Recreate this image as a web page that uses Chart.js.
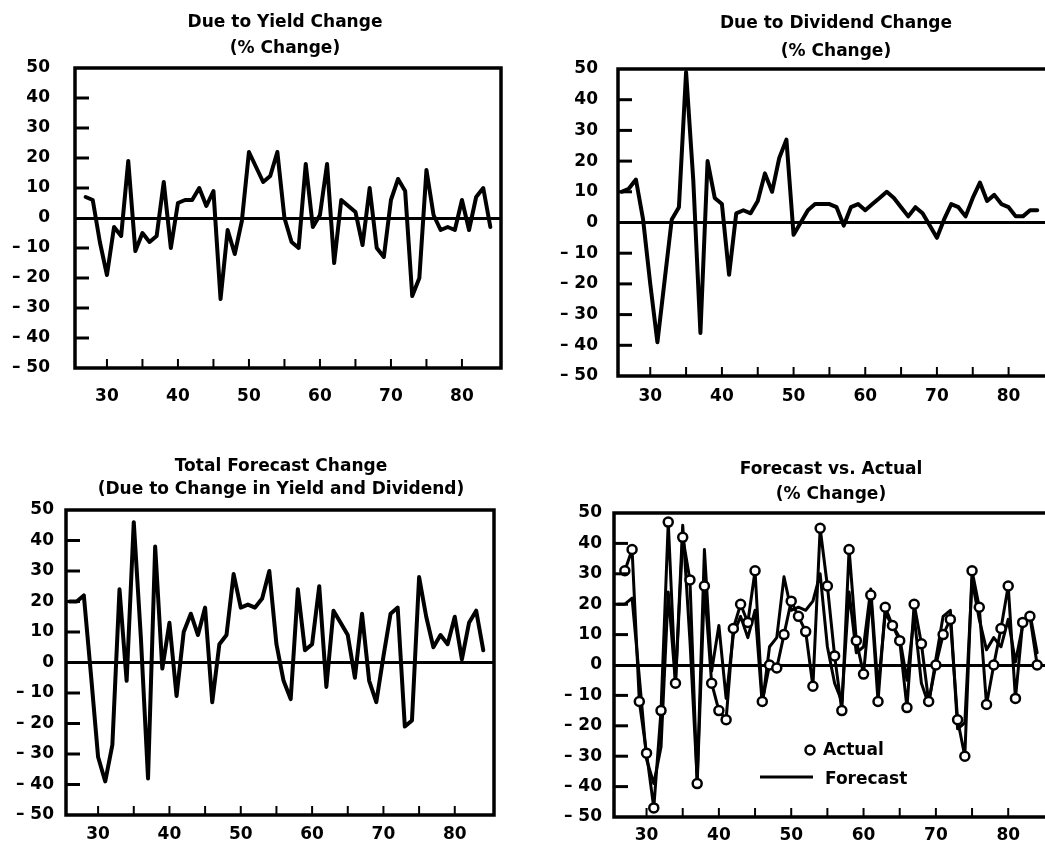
<!DOCTYPE html>
<html>
<head>
<meta charset="utf-8">
<script src="https://cdn.jsdelivr.net/npm/chart.js@4.4.1/dist/chart.umd.min.js"></script>
<style>
  html, body { margin: 0; padding: 0; background: #fff; overflow: hidden; }
  body { width: 1045px; height: 850px; position: relative; }
  canvas { position: absolute; }
</style>
</head>
<body>
<canvas id="yieldChart" width="570" height="415" style="left:0;top:0"></canvas>
<canvas id="dividendChart" width="552" height="415" style="left:560px;top:0"></canvas>
<canvas id="totalChart" width="562" height="410" style="left:0;top:440px"></canvas>
<canvas id="actualChart" width="542" height="410" style="left:560px;top:440px"></canvas>
<script>
// years 1926..1984, two digits as on the axis
const years = [26, 27, 28, 29, 30, 31, 32, 33, 34, 35, 36, 37, 38, 39, 40, 41, 42, 43, 44, 45,
               46, 47, 48, 49, 50, 51, 52, 53, 54, 55, 56, 57, 58, 59, 60, 61, 62, 63, 64, 65,
               66, 67, 68, 69, 70, 71, 72, 73, 74, 75, 76, 77, 78, 79, 80, 81, 82, 83, 84];

const yieldChg = [null, 7, 6, -8, -19, -3, -6, 19, -11, -5, -8, -6, 12, -10, 5, 6, 6, 10, 4, 9,
                  -27, -4, -12, -1, 22, 17, 12, 14, 22, 0, -8, -10, 18, -3, 1, 18, -15, 6, 4, 2,
                  -9, 10, -10, -13, 6, 13, 9, -26, -20, 16, 1, -4, -3, -4, 6, -4, 7, 10, -3];

const dividendChg = [10, 11, 14, 1, -20, -39, -19, 1, 5, 49, 14, -36, 20, 8, 6, -17, 3, 4, 3, 7,
                     16, 10, 21, 27, -4, 0, 4, 6, 6, 6, 5, -1, 5, 6, 4, 6, 8, 10, 8, 5,
                     2, 5, 3, -1, -5, 1, 6, 5, 2, 8, 13, 7, 9, 6, 5, 2, 2, 4, 4];

// total forecast change (yield + dividend), also the forecast line in the last panel
const totalChg = [20, 20, 22, -4, -31, -39, -27, 24, -6, 46, 8, -38, 38, -2, 13, -11, 10, 16, 9, 18,
                  -13, 6, 9, 29, 18, 19, 18, 21, 30, 6, -6, -12, 24, 4, 6, 25, -8, 17, 13, 9,
                  -5, 16, -6, -13, 2, 16, 18, -21, -19, 28, 15, 5, 9, 6, 15, 1, 13, 17, 4];

const actualChg = [null, 31, 38, -12, -29, -47, -15, 47, -6, 42, 28, -39, 26, -6, -15, -18, 12, 20, 14, 31,
                   -12, 0, -1, 10, 21, 16, 11, -7, 45, 26, 3, -15, 38, 8, -3, 23, -12, 19, 13, 8,
                   -14, 20, 7, -12, 0, 10, 15, -18, -30, 31, 19, -13, 0, 12, 26, -11, 14, 16, 0];

const xLabels = [30, 40, 50, 60, 70, 80];
const xTickMarks = [30, 35, 40, 45, 50, 55, 60, 65, 70, 75, 80];
const yLabels = [-50, -40, -30, -20, -10, 0, 10, 20, 30, 40, 50];

const FONT = "'DejaVu Sans', sans-serif";

function points(vals) {
    return years.map((yr, i) => ({ x: yr, y: vals[i] }));
}

// box round the plot, inward ticks
const framePlugin = {
    id: 'frame',
    afterDatasetsDraw(chart) {
        const { ctx, chartArea: a, scales } = chart;
        ctx.save();
        ctx.strokeStyle = '#000';
        ctx.lineWidth = 3.5;
        ctx.strokeRect(a.left, a.top, a.right - a.left, a.bottom - a.top);
        ctx.lineWidth = 3;
        yLabels.forEach(v => {
            if (v === 0 || Math.abs(v) === 50) return;
            const py = scales.y.getPixelForValue(v);
            ctx.beginPath();
            ctx.moveTo(a.left, py);
            ctx.lineTo(a.left + 14, py);
            ctx.stroke();
        });
        ctx.lineWidth = 2;
        xTickMarks.forEach(v => {
            const px = scales.x.getPixelForValue(v);
            ctx.beginPath();
            ctx.moveTo(px, a.bottom);
            ctx.lineTo(px, a.bottom - 9);
            ctx.stroke();
        });
        ctx.restore();
    }
};

// key inside the last panel
const keyPlugin = {
    id: 'key',
    afterDraw(chart) {
        const { ctx, chartArea: a } = chart;
        ctx.save();
        ctx.strokeStyle = '#000';
        ctx.fillStyle = '#fff';
        ctx.lineWidth = 2.5;
        ctx.beginPath();
        ctx.arc(a.left + 196, a.bottom - 67, 4.5, 0, Math.PI * 2);
        ctx.fill();
        ctx.stroke();
        ctx.lineWidth = 3;
        ctx.beginPath();
        ctx.moveTo(a.left + 146, a.bottom - 40);
        ctx.lineTo(a.left + 199, a.bottom - 40);
        ctx.stroke();
        ctx.fillStyle = '#000';
        ctx.font = 'bold 17px ' + FONT;
        ctx.textBaseline = 'middle';
        ctx.fillText('Actual', a.left + 209, a.bottom - 66);
        ctx.fillText('Forecast', a.left + 211, a.bottom - 37);
        ctx.restore();
    }
};

function makeChart(id, o) {
    return new Chart(document.getElementById(id), {
        type: 'line',
        data: { datasets: o.datasets },
        options: {
            responsive: false,
            animation: false,
            layout: { padding: 0 },
            plugins: {
                legend: { display: false },
                tooltip: { enabled: false },
                title: {
                    display: true,
                    text: o.title,
                    color: '#000',
                    font: { family: FONT, size: 17, weight: 'bold', lineHeight: o.titleLine / 17 },
                    padding: { top: o.titleTop, bottom: o.titleBottom }
                }
            },
            scales: {
                x: {
                    type: 'linear',
                    min: 25.5,
                    max: 85.5,
                    afterBuildTicks: s => { s.ticks = xLabels.map(v => ({ value: v })); },
                    afterFit: s => { s.height = o.xHeight; },
                    grid: { display: false, drawTicks: false },
                    border: { display: false },
                    ticks: {
                        padding: o.xPad, color: '#000', autoSkip: false, maxRotation: 0,
                        font: { family: FONT, size: 17, weight: 'bold' }
                    }
                },
                y: {
                    min: -50,
                    max: 50,
                    afterBuildTicks: s => { s.ticks = yLabels.map(v => ({ value: v })); },
                    afterFit: s => { s.width = o.yWidth; },
                    grid: {
                        drawTicks: false,
                        color: c => (c.tick && c.tick.value === 0) ? '#000' : 'rgba(0,0,0,0)',
                        lineWidth: c => (c.tick && c.tick.value === 0) ? 3 : 0
                    },
                    border: { display: false },
                    ticks: {
                        padding: o.yPad, color: '#000',
                        font: { family: FONT, size: 17, weight: 'bold' },
                        callback: v => v < 0 ? '\u2013 ' + (-v) : String(v)
                    }
                },
                yr: {
                    position: 'right',
                    min: -50,
                    max: 50,
                    afterFit: s => { s.width = o.rightWidth; },
                    grid: { display: false, drawTicks: false },
                    border: { display: false },
                    ticks: { display: false }
                }
            }
        },
        plugins: o.plugins
    });
}

function thickLine(vals) {
    return {
        data: points(vals),
        borderColor: '#000',
        borderWidth: 4,
        pointRadius: 0,
        tension: 0,
        borderJoinStyle: 'round',
        borderCapStyle: 'round'
    };
}

makeChart('yieldChart', {
    title: ['Due to Yield Change', '(% Change)'],
    titleLine: 26, titleTop: 10, titleBottom: 6,
    xHeight: 47, xPad: 18, yWidth: 75, yPad: 25, rightWidth: 69,
    datasets: [thickLine(yieldChg)],
    plugins: [framePlugin]
});

makeChart('dividendChart', {
    title: ['Due to Dividend Change', '(% Change)'],
    titleLine: 28, titleTop: 10, titleBottom: 3,
    xHeight: 39, xPad: 10, yWidth: 58, yPad: 20, rightWidth: 64,
    datasets: [thickLine(dividendChg)],
    plugins: [framePlugin]
});

makeChart('totalChart', {
    title: ['Total Forecast Change', '(Due to Change in Yield and Dividend)'],
    titleLine: 23, titleTop: 15, titleBottom: 9,
    xHeight: 35, xPad: 9, yWidth: 66, yPad: 12, rightWidth: 68,
    datasets: [thickLine(totalChg)],
    plugins: [framePlugin]
});

makeChart('actualChart', {
    title: ['Forecast vs. Actual', '(% Change)'],
    titleLine: 25, titleTop: 17, titleBottom: 6,
    xHeight: 33, xPad: 8, yWidth: 54, yPad: 12, rightWidth: 54,
    datasets: [
        {
            label: 'Actual',
            data: points(actualChg),
            borderColor: '#000',
            borderWidth: 3,
            pointRadius: 4.5,
            pointBackgroundColor: '#fff',
            pointBorderColor: '#000',
            pointBorderWidth: 2.5,
            tension: 0,
            borderJoinStyle: 'round'
        },
        Object.assign(thickLine(totalChg), { label: 'Forecast', borderWidth: 3 })
    ],
    plugins: [framePlugin, keyPlugin]
});
</script>
</body>
</html>
